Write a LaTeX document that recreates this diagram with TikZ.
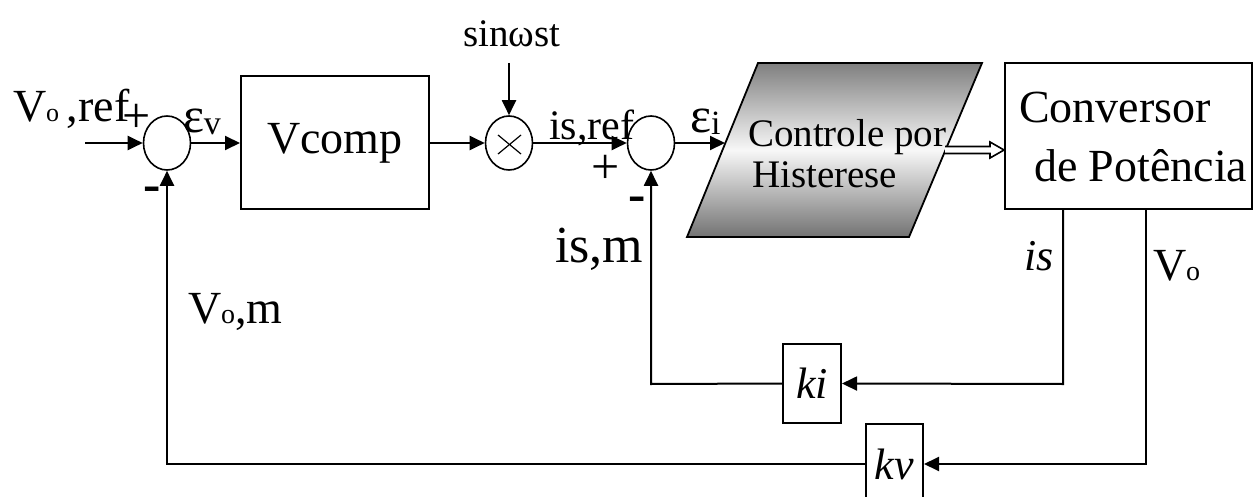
\documentclass[tikz,border=0pt]{standalone}
\usepackage{fontspec}
\setmainfont{Liberation Serif}
\usetikzlibrary{arrows.meta,shapes.geometric}

\newcommand\fsz[1]{\fontsize{#1}{#1}\selectfont}
\newcommand\subo[1]{{\fontsize{#1}{#1}\selectfont o}}

\begin{document}
\begin{tikzpicture}[x=0.5pt,y=-0.5pt,
  line width=1pt,
  >={Triangle[length=7.5pt,width=7pt]},
  lbl/.style={inner sep=0pt, anchor=base west},
  sgn/.style={inner sep=0pt, anchor=base},
  blk/.style={draw, line width=1pt, inner sep=0pt},
  junc/.style={draw, ellipse, line width=0.8pt, minimum width=23.5pt, minimum height=27pt, inner sep=0pt}]

\useasboundingbox (0,0) rectangle (1256,497);

% blocks and junctions
\node[junc] (s1) at (167,143) {};
\node[blk, minimum width=94pt, minimum height=66.5pt] (vc) at (335,143) {\fsz{23pt}Vcomp};
\node[junc] (mx) at (509,143) {};
\draw[line width=0.6pt] (498,135) -- (521,154) (521,135) -- (498,154);
\node[junc] (s2) at (651,143) {};

% hysteresis controller (shaded parallelogram)
\path[draw, line width=0.9pt, top color=black!50, bottom color=black!55, middle color=black!3]
  (687,237) -- (758,63) -- (982,63) -- (909,237) -- cycle;
\coordinate (hin) at (725,143);
\coordinate (hout) at (945,150);
\node[lbl] (hc1) at (747,147) {\fsz{19.5pt}Controle por};
\node[lbl] (hc2) at (751,188) {\fsz{19.5pt}Histerese};

% power converter
\node[blk, minimum width=123.5pt, minimum height=73pt] (cv) at (1128.5,136) {};
\node[lbl] (cv1) at (1018,123) {\fsz{23pt}Conversor};
\node[lbl] (cv2) at (1033,182) {\fsz{23pt}de Potência};

% feedback gains
\node[blk, minimum width=29pt, minimum height=39.5pt] (ki) at (812,383.5) {\fsz{22pt}\itshape ki};
\node[blk, minimum width=28.5pt, minimum height=40pt] (kv) at (894.5,464) {\fsz{22pt}\itshape kv};

% forward path
\coordinate (in) at (85,143);
\coordinate (sw) at (509,63);
\draw[->] (in) -- (s1.west);
\draw[->] (s1.east) -- (vc.west);
\draw[->] (vc.east) -- (mx.west);
\draw[->] (sw) -- (mx.north);
\draw[->] (mx.east) -- (s2.west);
\draw[->] (s2.east) -- (hin);

% hollow double arrow into the converter
\draw[line width=0.8pt, fill=white, shift={(hout)}]
  (0,-3.5) -- (45,-3.5) -- (45,-8) -- (59,0) -- (45,8) -- (45,3.5) -- (0,3.5);

% current loop
\coordinate (isc) at (1063,384);
\coordinate (kic) at (651,384);
\draw[->] (cv.south -| isc) -- (isc) -- (ki.east);
\draw[->] (ki.west) -- (kic) -- (s2.south);

% voltage loop
\coordinate (vsc) at (1146,464);
\coordinate (kvc) at (167,464);
\draw[->] (cv.south -| vsc) -- (vsc) -- (kv.east);
\draw[->] (kv.west) -- (kvc) -- (s1.south);

% signal labels
\node[lbl] (lref) at (12,122) {\fsz{23pt}V\subo{13pt}\,,ref};
\node[sgn] (p1) at (137,132.5) {\fsz{25pt}+};
\node[sgn] (m1) at (152.5,201) {\fsz{26pt}\bfseries -};
\node[lbl] (ev) at (182,133) {\fsz{25pt}ε\raisebox{-1pt}{\fsz{17pt}v}};
\node[sgn] (sn) at (512,47) {\fsz{19.5pt}sinωst};
\node[lbl] (isr) at (548,140) {\fsz{21pt}is,ref};
\node[sgn] (p2) at (606,183.5) {\fsz{25pt}+};
\node[sgn] (m2) at (637,212) {\fsz{26pt}\bfseries -};
\node[lbl] (ei) at (689,133) {\fsz{25pt}ε\raisebox{-1pt}{\fsz{17pt}i}};
\node[lbl] (ism) at (554,262) {\fsz{26pt}is,m};
\node[lbl] (vom) at (187,323) {\fsz{23pt}V\subo{14pt},m};
\node[lbl] (ism2) at (1023,270) {\fsz{22pt}\itshape is};
\node[lbl] (vo) at (1152,280) {\fsz{23pt}V\subo{14pt}};
\end{tikzpicture}
\end{document}
